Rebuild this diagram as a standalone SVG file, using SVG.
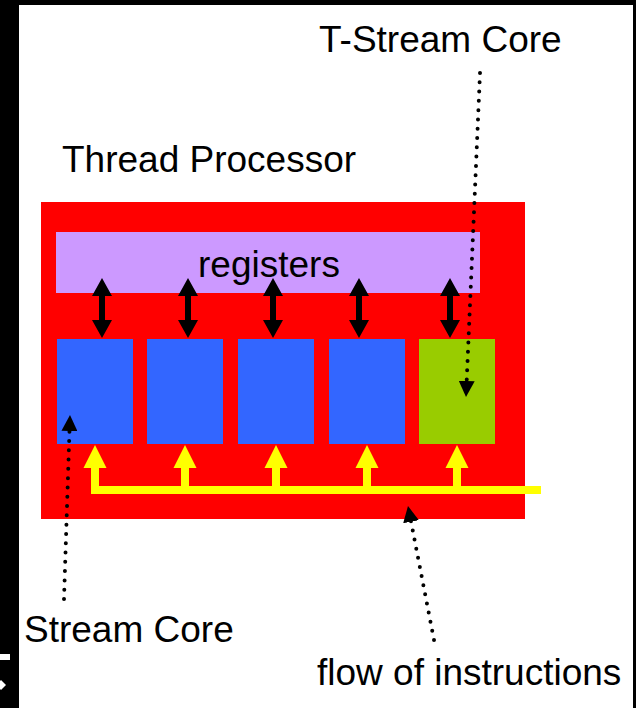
<svg xmlns="http://www.w3.org/2000/svg" width="636" height="708" viewBox="0 0 636 708">
<style>
text{font-family:"Liberation Sans",Arial,sans-serif;font-size:37px;fill:#000}
.core{fill:#3366FF}
.dot{fill:none;stroke:#000;stroke-width:4;stroke-linecap:round;stroke-dasharray:0 9.3}
.yel{fill:#FFFF00}
</style>
<defs>
<marker id="ah" viewBox="0 0 16 16" refX="16" refY="8" markerWidth="16" markerHeight="16" markerUnits="userSpaceOnUse" orient="auto">
<path d="M0,0 L16,8 L0,16 Z" fill="#000"/>
</marker>
<path id="dbl" d="M-3,-42 h-7 l10,-18 l10,18 h-7 v24 h7 l-10,18 l-10,-18 h7 Z" fill="#000"/>
<path id="yup" d="M-4,45 v-22 h-7.5 l11.5,-23 l11.5,23 h-7.5 v22 Z" fill="#FFFF00"/>
</defs>
<rect x="0" y="0" width="636" height="708" fill="#000"/>
<rect x="19" y="5" width="614" height="703" fill="#fff"/>
<rect x="0" y="654" width="10" height="6" fill="#fff"/>
<polygon points="1,680 6,685 1,690 -4,685" fill="#fff"/>
<g id="thread-processor">
<rect x="41" y="202" width="484" height="317" fill="#FF0000"/>
<text x="62" y="172">Thread Processor</text>
</g>
<g id="registers">
<rect x="56" y="232" width="424" height="61" fill="#CC99FF"/>
<text x="198" y="277">registers</text>
</g>
<g id="core1"><rect class="core" x="57" y="339" width="76" height="105"/></g>
<g id="core2"><rect class="core" x="147" y="339" width="76" height="105"/></g>
<g id="core3"><rect class="core" x="238" y="339" width="76" height="105"/></g>
<g id="core4"><rect class="core" x="329" y="339" width="76" height="105"/></g>
<g id="tcore"><rect x="419" y="339" width="76" height="105" fill="#99CC00"/></g>
<g id="label-tstream"><text x="319" y="52">T-Stream Core</text></g>
<g id="label-stream"><text x="24" y="642">Stream Core</text></g>
<g id="label-flow"><text x="317" y="685">flow of instructions</text></g>
<g id="connectors">
<use href="#dbl" x="102" y="338"/>
<use href="#dbl" x="188" y="338"/>
<use href="#dbl" x="273" y="338"/>
<use href="#dbl" x="359" y="338"/>
<use href="#dbl" x="450" y="338"/>
<rect class="yel" x="91" y="486" width="450" height="8"/>
<use href="#yup" x="95" y="445"/>
<use href="#yup" x="185" y="445"/>
<use href="#yup" x="276" y="445"/>
<use href="#yup" x="367" y="445"/>
<use href="#yup" x="457" y="445"/>
<path class="dot" d="M480,73 L466,397" marker-end="url(#ah)"/>
<path class="dot" d="M64,599 L70,415" marker-end="url(#ah)"/>
<path class="dot" d="M434,640 L408,506" marker-end="url(#ah)"/>
</g>
</svg>
